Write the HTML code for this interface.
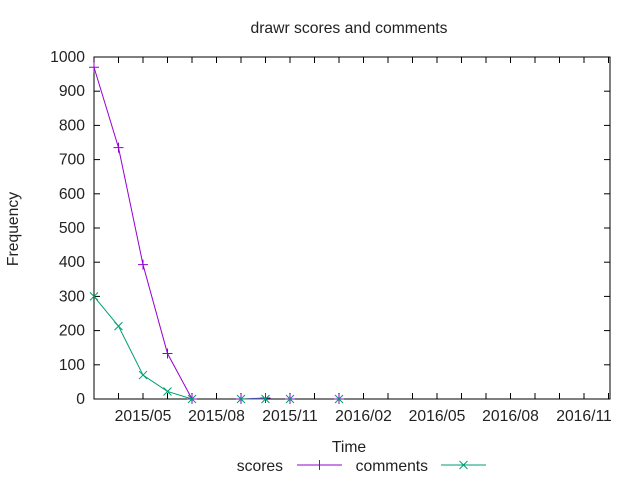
<!DOCTYPE html>
<html><head><meta charset="utf-8"><style>
body{margin:0;background:#fff}
svg text{font-family:"Liberation Sans",sans-serif;font-size:15.7px;fill:#222}
</style></head><body>
<svg width="640" height="480">
<g id="g"></g>
</svg>
<script>
const months=[0,1,2,3,4,6,7,8,10];
const scores=[970,735,393,133,0,0,3,0,0];
const comments=[300,213,70,22,0,0,0,0,0];
const yTicks=[0,100,200,300,400,500,600,700,800,900,1000];
const xTickMonths=[2,5,8,11,14,17,20];
const xTickLabels=["2015/05","2015/08","2015/11","2016/02","2016/05","2016/08","2016/11"];
const L=94,R=610,T=57,B=399,PM=24.5;
const X=m=>L+m*PM, Y=v=>B-(B-T)*v/1000;
const g=document.getElementById('g');const NS='http://www.w3.org/2000/svg';
function el(t,a,txt){const e=document.createElementNS(NS,t);for(const k in a)e.setAttribute(k,a[k]);if(txt!==undefined)e.textContent=txt;g.appendChild(e);return e;}
let e=el('rect',{x:L,y:T,width:R-L,height:B-T,fill:'none',stroke:'#000','stroke-width':1});

yTicks.forEach(v=>{el('line',{x1:L,x2:L+6,y1:Y(v),y2:Y(v),stroke:'#000'});el('line',{x1:R,x2:R-6,y1:Y(v),y2:Y(v),stroke:'#000'});
 const t=el('text',{x:L-9,y:Y(v)+5,'text-anchor':'end'},v);});
for(let m=1;m<=21;m++){el('line',{x1:X(m),x2:X(m),y1:B,y2:B-6,stroke:'#000'});el('line',{x1:X(m),x2:X(m),y1:T,y2:T+6,stroke:'#000'});}
xTickMonths.forEach((m,i)=>{const t=el('text',{x:X(m),y:B+22,'text-anchor':'middle'},xTickLabels[i]);});
e=el('text',{x:349,y:33,'text-anchor':'middle'},'drawr scores and comments');
e=el('text',{x:349,y:452,'text-anchor':'middle'},'Time');
e=el('text',{x:18,y:229,'text-anchor':'middle',transform:'rotate(-90 18 229)'},'Frequency');
function plus(x,y,c){el('path',{d:`M${x-5} ${y}h10M${x} ${y-5}v10`,stroke:c,fill:'none'});}
function cross(x,y,c){el('path',{d:`M${x-4} ${y-4}l8 8M${x-4} ${y+4}l8 -8`,stroke:c,fill:'none'});}
function series(vals,c,mk,name){
 const p=el('polyline',{points:months.slice(0,5).map((m,i)=>X(m)+','+Y(vals[i])).join(' '),fill:'none',stroke:c});
 
 el('polyline',{points:months.slice(5,7).map((m,i)=>X(m)+','+Y(vals[i+5])).join(' '),fill:'none',stroke:c});
 months.forEach((m,i)=>mk(X(m),Y(vals[i]),c));
}
series(scores,'#9400d3',plus,'scores');
series(comments,'#009e73',cross,'comments');
e=el('text',{x:283,y:471,'text-anchor':'end'},'scores');
el('line',{x1:297,x2:342,y1:465,y2:465,stroke:'#9400d3'});plus(319.5,465,'#9400d3');
e=el('text',{x:428,y:471,'text-anchor':'end'},'comments');
el('line',{x1:441,x2:486,y1:465,y2:465,stroke:'#009e73'});cross(463.5,465,'#009e73');
</script>
</body></html>
